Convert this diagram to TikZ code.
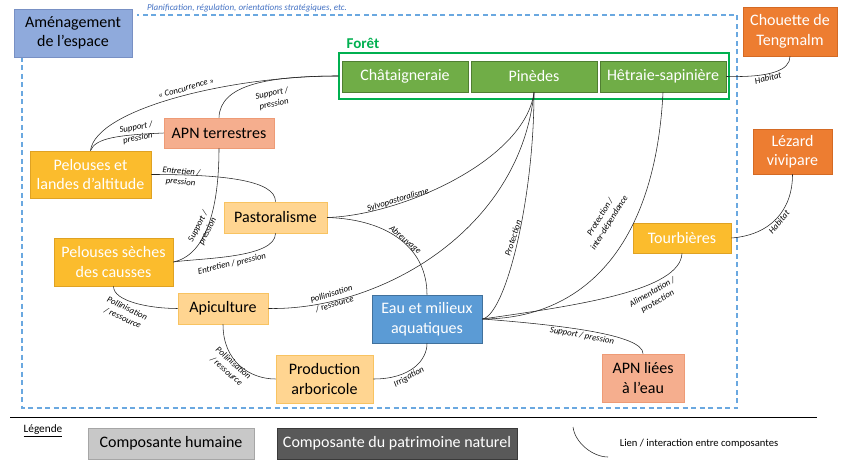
\documentclass[tikz,border=0pt]{standalone}
\usepackage{fontspec}
\setmainfont{Carlito}
\definecolor{cgold}{HTML}{FBBC2D}
\definecolor{cgoldd}{HTML}{DFA223}
\definecolor{clight}{HTML}{FFD591}
\definecolor{clightd}{HTML}{F8C361}
\definecolor{csalmon}{HTML}{F5AE8E}
\definecolor{csalmond}{HTML}{EE9B76}
\definecolor{corange}{HTML}{ED7D31}
\definecolor{coranged}{HTML}{D46A24}
\definecolor{cgreen}{HTML}{70AD47}
\definecolor{cgreend}{HTML}{507E32}
\definecolor{cfgreen}{HTML}{00B050}
\definecolor{cblue}{HTML}{5B9BD5}
\definecolor{cblued}{HTML}{41719C}
\definecolor{camen}{HTML}{8FAADC}
\definecolor{camend}{HTML}{7890C4}
\definecolor{cdash}{HTML}{6AA8E0}
\definecolor{cplan}{HTML}{4472C4}
\definecolor{chum}{HTML}{C8C8C8}
\definecolor{chumd}{HTML}{A6A6A6}
\definecolor{cnat}{HTML}{595959}
\definecolor{cnatd}{HTML}{3A3A3A}
\begin{document}
\begin{tikzpicture}[x=1pt,y=-1pt,
  box/.style={draw, line width=0.8pt, inner sep=1pt, align=center, font=\fontsize{16}{19.5}\selectfont},
  goldbox/.style={box, fill=cgold, draw=cgoldd, text=white},
  lightbox/.style={box, fill=clight, draw=clightd, text=black},
  salmonbox/.style={box, fill=csalmon, draw=csalmond, text=black},
  orangebox/.style={box, fill=corange, draw=coranged, text=white},
  greenbox/.style={box, fill=cgreen, draw=cgreend, text=white},
  bluebox/.style={box, fill=cblue, draw=cblued, text=white},
  amenbox/.style={box, fill=camen, draw=camend, text=black},
  humbox/.style={box, fill=chum, draw=chumd, text=black},
  natbox/.style={box, fill=cnat, draw=cnatd, text=white},
  sz/.style 2 args={minimum width=#1pt, minimum height=#2pt},
  lbl/.style={font=\fontsize{8.8}{10.6}\selectfont\itshape, align=center, inner sep=0pt},
  link/.style={line width=0.55pt, draw=black!85},
  dashframe/.style={draw=cdash, line width=1.4pt, dash pattern=on 5pt off 3.5pt}
]
\useasboundingbox (0,0) rectangle (850,462);
\fill[white] (0,0) rectangle (850,462);

% dashed frame
\draw[dashframe] (22,57) -- (22,408) -- (737,408) -- (737,15) -- (137,15);
\node[font=\fontsize{9}{10}\selectfont\itshape, text=cplan, inner sep=0pt] (plan) at (247,8) {Planification, régulation, orientations stratégiques, etc.};

% nodes
\node[amenbox, sz={118}{48}] (amen) at (73,33) {Aménagement\\de l’espace};
\node[draw=cfgreen, line width=1.3pt, fill=white, minimum width=390pt, minimum height=46pt, inner sep=0pt] (foret) at (534,76) {};
\node[font=\fontsize{15}{18}\selectfont\bfseries, text=cfgreen, inner sep=0pt] (foretlbl) at (363,43) {Forêt};
\node[greenbox, sz={126}{31}] (chat) at (405,76.5) {Châtaigneraie};
\node[greenbox, sz={126}{31}] (pin) at (534,76.5) {Pinèdes};
\node[greenbox, sz={126}{31}] (het) at (663,76.5) {Hêtraie-sapinière};
\node[orangebox, sz={94}{49}] (chou) at (790,31.5) {Chouette de\\Tengmalm};
\node[orangebox, sz={79}{45}] (lez) at (792.5,151.5) {Lézard\\vivipare};
\node[goldbox, sz={98}{30}] (tourb) at (682,238) {Tourbières};
\node[salmonbox, sz={110}{30}] (apnt) at (219,133) {APN terrestres};
\node[goldbox, sz={121}{47}] (pla) at (90.5,174.5) {Pelouses et\\landes d’altitude};
\node[lightbox, sz={103}{31}] (past) at (275.5,217.5) {Pastoralisme};
\node[goldbox, sz={119}{48}] (pss) at (113.5,262) {Pelouses sèches\\des causses};
\node[lightbox, sz={90}{31}] (api) at (223,308.5) {Apiculture};
\node[bluebox, sz={110}{48}] (eau) at (427,319) {Eau et milieux\\aquatiques};
\node[lightbox, sz={97}{48}] (prod) at (324.5,379) {Production\\arboricole};
\node[salmonbox, sz={82}{48}] (apnl) at (643,378) {APN liées\\à l’eau};

% links
\draw[link] (foret.west) .. controls +(-110,0) and +(5,-41) .. (pla.north);
\draw[link] (foret.west) .. controls +(-70,0) and +(1,-33) .. (apnt.north);
\draw[link] (apnt.west) .. controls +(-44,2) and +(5,-13) .. (pla.north);
\draw[link] (apnt.south) .. controls +(0,62) and +(32,-7) .. (pss.east);
\draw[link] (pla.east) .. controls +(69,0) and +(0,-22) .. (past.north);
\draw[link] (past.south) .. controls +(0,25) and +(27,-4) .. (pss.east);
\draw[link] (past.east) .. controls +(73,-2) and +(-9,68) .. (pin.south);
\draw[link] (past.east) .. controls +(63,2) and +(0,-45) .. (eau.north);
\draw[link] (api.east) .. controls +(112,2) and +(-14,138) .. (pin.south);
\draw[link] (pss.south) .. controls +(0,15) and +(-28,0) .. (api.west);
\draw[link] (api.south) .. controls +(0,37) and +(-26,0) .. (prod.west);
\draw[link] (prod.east) .. controls +(37,0) and +(0,17) .. (eau.south);
\draw[link] (eau.east) .. controls +(23,-4) and +(0,108) .. (pin.south);
\draw[link] (eau.east) .. controls +(98,0) and +(-8,158) .. (het.south);
\draw[link] (eau.east) .. controls +(98,-14) and +(-2,37) .. (tourb.south);
\draw[link] (eau.east) .. controls +(78,6) and +(0,-19) .. (apnl.north);
\draw[link] (het.east) .. controls +(44,1) and +(0,14) .. (chou.south);
\draw[link] (tourb.east) .. controls +(39,-3) and +(0,36) .. (lez.south);

% link labels
\node[lbl, rotate=16] (l1) at (186,88) {« Concurrence »};
\node[lbl, rotate=12] (l2) at (273,99) {Support /\\pression};
\node[lbl, rotate=10] (l3) at (137,133) {Support /\\pression};
\node[lbl, rotate=-5] (l4) at (181,177) {Entretien /\\pression};
\node[lbl, rotate=63] (l5) at (203,229) {Support /\\pression};
\node[lbl, rotate=13] (l6) at (232,264) {Entretien / pression};
\node[lbl, rotate=17] (l7) at (398,200) {Sylvopastoralisme};
\node[lbl, rotate=-40] (l8) at (405,240) {Abreuvage};
\node[lbl, rotate=17] (l9) at (333,299) {Pollinisation\\/ ressource};
\node[lbl, rotate=72] (l10) at (513,238) {Protection};
\node[lbl, rotate=58] (l11) at (605,220) {Protection /\\inter-dépendance};
\node[lbl, rotate=30] (l12) at (655,297) {Alimentation /\\protection};
\node[lbl, rotate=-10.5] (l13) at (582,336) {Support / pression};
\node[lbl, rotate=-25] (l14) at (125,313) {Pollinisation\\/ ressource};
\node[lbl, rotate=-41] (l15) at (230,367) {Pollinisation\\/ ressource};
\node[lbl, rotate=29] (l16) at (409,377) {Irrigation};
\node[lbl, rotate=14] (l17) at (768,78) {Habitat};
\node[lbl, rotate=50] (l18) at (779,222) {Habitat};

% legend
\coordinate (sepL) at (10,417);
\coordinate (sepR) at (817,417);
\draw[line width=1pt] (sepL) -- (sepR);
\node[font=\fontsize{11.3}{13}\selectfont, inner sep=0pt] (leg) at (43,431) {\underline{Légende}};
\node[humbox, sz={166}{31}] (hum) at (171,443.5) {Composante humaine};
\node[natbox, sz={240}{31}] (nat) at (397,443.5) {Composante du patrimoine naturel};
\coordinate (lc1) at (573,427);
\coordinate (lc2) at (608,457);
\draw[link] (lc1) .. controls +(2,16) and +(-15,0) .. (lc2);
\node[font=\fontsize{10.6}{12}\selectfont, inner sep=0pt] (lienlbl) at (699,444) {Lien / interaction entre composantes};
\end{tikzpicture}
\end{document}
